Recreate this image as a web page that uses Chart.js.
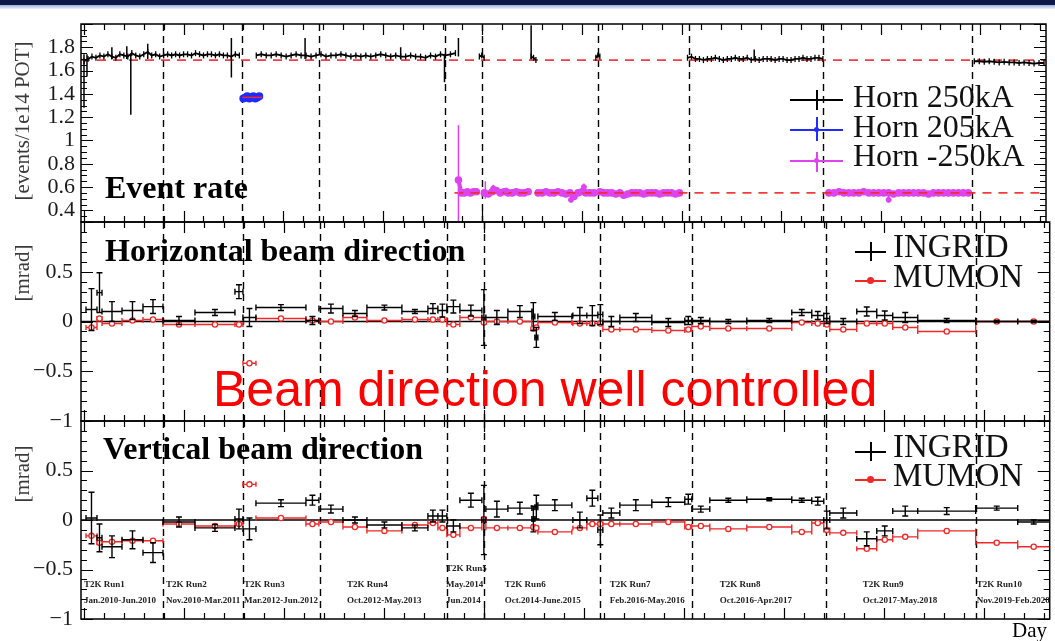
<!DOCTYPE html>
<html>
<head>
<meta charset="utf-8">
<title>Beam stability</title>
<script src="https://cdn.jsdelivr.net/npm/chart.js@4.4.1/dist/chart.umd.min.js"></script>
<style>
  body { margin: 0; background: #fff; }
  #page { position: relative; width: 1055px; height: 641px; overflow: hidden; background: #fff; font-family: 'Liberation Serif', 'Times New Roman', serif; }
  #page canvas { position: absolute; left: 0; top: 0; }
  .bar { position: absolute; left: 0; top: 0; width: 1055px; height: 5px; background: #0f1947; }
  .bar2 { position: absolute; left: 0; top: 5px; width: 1055px; height: 4px; background: linear-gradient(#9fb0d8, #eef2fa); }
  .t { position: absolute; white-space: nowrap; line-height: 1; color: #000; }
  .title { font-weight: bold; font-size: 32px; }
  .leg { font-size: 32px; color: #111; }
  .leg2 { font-size: 33px; color: #111; }
  .ytitle { font-size: 21px; color: #3a3a3a; transform: translate(-50%, -50%) rotate(-90deg); }
  .big { font-family: 'Liberation Sans', Arial, sans-serif; font-size: 50px; color: #ff0000; }
  .hl { position: absolute; height: 1.5px; }
  .vl { position: absolute; width: 1.5px; }
  .dot { position: absolute; border-radius: 50%; }
</style>
</head>
<body>
<div id="page">
  <div class="bar"></div><div class="bar2"></div>
  <canvas id="rate" width="1055" height="641"></canvas>
  <canvas id="horiz" width="1055" height="641"></canvas>
  <canvas id="vert" width="1055" height="641"></canvas>

  <div class="t ytitle" style="left:22px; top:121px;">[events/1e14 POT]</div>
  <div class="t ytitle" style="left:22px; top:273px;">[mrad]</div>
  <div class="t ytitle" style="left:22px; top:474px;">[mrad]</div>

  <div class="t title" style="left:105px; top:171px;">Event rate</div>
  <div class="t title" style="left:105px; top:234px;">Horizontal beam direction</div>
  <div class="t title" style="left:103px; top:432px;">Vertical beam direction</div>

  <div class="hl" style="left:790px; top:99px; width:53px; background:#000;"></div>
  <div class="vl" style="left:816px; top:90px; height:20px; background:#000;"></div>
  <div class="t leg" style="left:853px; top:80px;">Horn 250kA</div>
  <div class="hl" style="left:790px; top:129px; width:53px; background:#1f2cff;"></div>
  <div class="vl" style="left:816px; top:117px; height:24px; background:#1f2cff;"></div>
  <div class="dot" style="left:814px; top:127px; width:5px; height:5px; background:#1f2cff;"></div>
  <div class="t leg" style="left:853px; top:110px;">Horn 205kA</div>
  <div class="hl" style="left:790px; top:160px; width:53px; background:#dd44f0;"></div>
  <div class="vl" style="left:816px; top:152px; height:20px; background:#dd44f0;"></div>
  <div class="dot" style="left:814px; top:158px; width:5px; height:5px; background:#dd44f0;"></div>
  <div class="t leg" style="left:853px; top:139px;">Horn -250kA</div>

  <div class="hl" style="left:855px; top:251px; width:31px; background:#000;"></div>
  <div class="vl" style="left:870px; top:242px; height:19px; background:#000;"></div>
  <div class="t leg2" style="left:893px; top:230px;">INGRID</div>
  <div class="hl" style="left:855px; top:280px; width:31px; background:#f02828;"></div>
  <div class="dot" style="left:867px; top:277px; width:7px; height:7px; background:#f02828;"></div>
  <div class="t leg2" style="left:893px; top:260px;">MUMON</div>

  <div class="hl" style="left:855px; top:451px; width:31px; background:#000;"></div>
  <div class="vl" style="left:870px; top:442px; height:19px; background:#000;"></div>
  <div class="t leg2" style="left:893px; top:430px;">INGRID</div>
  <div class="hl" style="left:855px; top:479px; width:31px; background:#f02828;"></div>
  <div class="dot" style="left:867px; top:476px; width:7px; height:7px; background:#f02828;"></div>
  <div class="t leg2" style="left:893px; top:459px;">MUMON</div>

  <div class="t big" style="left:213px; top:364px;">Beam direction well controlled</div>
  <div class="t" style="left:1012px; top:620px; font-size:21px;">Day</div>
</div>

<script>
const DAY_MIN = -15;
const DAY_MAX = 4830;
const runBoundaries = [395, 795, 1180, 1815, 2000, 2580, 3040, 3710, 4460];

// Event rate, Horn 250kA: chunks of data, each with a start day and a spacing
const horn250Starts = [0, 865, 1985, 2245, 2570, 3030, 4470];
const horn250Steps = [20, 25, 12, 12, 10, 20, 25];
const horn250Run1to2 = [1.68, 1.70, 1.72, 1.71, 1.73, 1.72, 1.74, 1.72, 1.71, 1.74, 1.73, 1.72, 1.75, 1.73, 1.72, 1.74, 1.76, 1.73, 1.74, 1.72,
  1.73, 1.74, 1.73, 1.74, 1.73, 1.74, 1.74, 1.73, 1.75, 1.74, 1.73, 1.74, 1.74, 1.73, 1.74, 1.73, 1.73, 1.72, 1.74, 1.73];
const horn250Run3to5 = [1.73, 1.74, 1.73, 1.73, 1.74, 1.73, 1.72, 1.73, 1.74, 1.73, 1.73, 1.72, 1.73, 1.74, 1.72, 1.73, 1.73, 1.74, 1.73, 1.72,
  1.73, 1.72, 1.73, 1.72, 1.73, 1.74, 1.73, 1.72, 1.73, 1.72, 1.72, 1.73, 1.72, 1.72, 1.71, 1.73, 1.72, 1.74, 1.73, 1.74, 1.75];
const horn250Run5b = [1.72, 1.73, 1.71];
const horn250Run6 = [1.72, 1.71, 1.69];
const horn250Run7 = [1.71, 1.73, 1.72];
const horn250Run8 = [1.71, 1.72, 1.70, 1.70, 1.69, 1.70, 1.70, 1.71, 1.70, 1.69, 1.70, 1.70, 1.71, 1.70, 1.70, 1.71, 1.69, 1.70,
  1.69, 1.70, 1.70, 1.70, 1.69, 1.70, 1.70, 1.69, 1.69, 1.70, 1.70, 1.71, 1.70, 1.70, 1.71, 1.71, 1.70];
const horn250Run10 = [1.68, 1.68, 1.675, 1.68, 1.675, 1.67, 1.675, 1.67, 1.67, 1.665, 1.67, 1.665, 1.66, 1.665, 1.665];
const horn250SpikeDay = [0, 15, 140, 215, 235, 320, 740, 1110, 1590, 1810, 1880, 2245, 3365];
const horn250SpikeLow = [1.28, 1.55, 1.70, 1.70, 1.22, 1.70, 1.54, 1.70, 1.70, 1.50, 1.72, 1.70, 1.70];
const horn250SpikeHigh = [1.74, 1.74, 1.80, 1.81, 1.74, 1.83, 1.88, 1.88, 1.80, 1.74, 1.88, 1.99, 1.78];

// Horn 205kA
const horn205Start = 800;
const horn205Step = 10;
const horn205Rate = [1.36, 1.37, 1.38, 1.36, 1.37, 1.38, 1.36, 1.37, 1.38];

// Horn -250kA
const hornNegStarts = [1880, 2010, 2280, 2590, 3740];
const hornNegSteps = [15, 20, 20, 20, 25];
const hornNegRun5 = [0.66, 0.55, 0.55, 0.56, 0.55, 0.56, 0.56];
const hornNegRun6a = [0.55, 0.54, 0.56, 0.57, 0.55, 0.56, 0.55, 0.55, 0.56, 0.55, 0.55, 0.56];
const hornNegRun6b = [0.55, 0.55, 0.56, 0.55, 0.55, 0.56, 0.55, 0.54, 0.55, 0.52, 0.55, 0.56, 0.55, 0.55, 0.55];
const hornNegRun7 = [0.56, 0.55, 0.55, 0.55, 0.54, 0.55, 0.53, 0.54, 0.55, 0.55, 0.55, 0.54, 0.55, 0.55, 0.55, 0.54, 0.55, 0.55, 0.55, 0.54, 0.55];
const hornNegRun9 = [0.55, 0.55, 0.56, 0.55, 0.55, 0.55, 0.55, 0.56, 0.55, 0.55, 0.55, 0.55, 0.55, 0.54, 0.55, 0.55, 0.55, 0.55, 0.55,
  0.55, 0.54, 0.55, 0.55, 0.55, 0.55, 0.55, 0.55, 0.55, 0.55];
const hornNegSpikeDay = [1880, 2015, 2055, 2120, 2445, 2510, 4040];
const hornNegSpikeVal = [0.66, 0.55, 0.59, 0.57, 0.49, 0.60, 0.49];
const hornNegSpikeLow = [0.30, 0.50, 0.56, 0.55, 0.47, 0.55, 0.47];
const hornNegSpikeHigh = [1.13, 0.65, 0.62, 0.59, 0.55, 0.63, 0.55];

const nominalRate = [1.69, 0.55, 1.37];

// Beam direction bins (day ranges)
const binLo = [10, 65, 90, 190, 295, 395, 555, 755, 795, 860, 1110, 1175, 1295, 1415, 1590, 1720, 1770, 1815, 1880, 1990,
  2010, 2120, 2240, 2255, 2270, 2445, 2515, 2570, 2595, 2680, 2840, 3005, 3040, 3130, 3315, 3540, 3640, 3700, 3730, 3865,
  3965, 4045, 4170, 4460, 4670];
const binHi = [65, 90, 190, 295, 395, 555, 755, 795, 860, 1110, 1175, 1295, 1415, 1590, 1720, 1770, 1815, 1880, 1990, 2010,
  2120, 2240, 2255, 2270, 2440, 2515, 2570, 2595, 2680, 2840, 3005, 3040, 3130, 3315, 3540, 3640, 3700, 3730, 3865, 3965,
  4045, 4170, 4460, 4670, 4830];
const ingridH = [0.12, 0.29, 0.10, 0.11, 0.15, 0.01, 0.09, 0.30, 0.04, 0.14, 0.01, 0.13, 0.08, 0.14, 0.10, 0.13, 0.11, 0.15, 0.11, 0.04,
  0.04, 0.10, 0.05, -0.16, 0.05, 0.06, 0.06, 0.07, 0.00, 0.04, -0.01, 0.01, 0.01, 0.00, 0.01, 0.09, 0.06, 0.03, 0.00, 0.10,
  0.06, 0.04, 0.01, 0.00, 0.00];
const ingridHErr = [0.21, 0.20, 0.10, 0.09, 0.07, 0.04, 0.03, 0.07, 0.09, 0.03, 0.04, 0.045, 0.03, 0.025, 0.02, 0.05, 0.065, 0.065, 0.055, 0.28,
  0.07, 0.06, 0.14, 0.10, 0.04, 0.08, 0.10, 0.10, 0.05, 0.04, 0.04, 0.04, 0.03, 0.02, 0.02, 0.03, 0.04, 0.05, 0.03, 0.045,
  0.045, 0.05, 0.02, 0.01, 0.01];
const mumonH = [-0.06, 0.03, -0.02, 0.01, 0.02, -0.03, -0.03, -0.03, -0.42, 0.03, 0.01, 0.00, 0.04, 0.01, 0.02, 0.02, 0.02, -0.03, 0.04, -0.01,
  0.00, 0.00, -0.07, -0.06, -0.01, -0.02, -0.02, -0.02, -0.08, -0.08, -0.09, -0.08, -0.05, -0.07, -0.07, -0.01, -0.02, -0.03, -0.08, -0.02,
  -0.02, -0.06, -0.10, 0.00, 0.00];
const ingridV = [0.02, -0.18, -0.27, -0.20, -0.33, -0.02, -0.08, 0.01, -0.09, 0.17, 0.20, 0.11, 0.00, -0.05, -0.08, 0.04, 0.04, -0.06, 0.20, 0.00,
  0.11, 0.12, 0.01, 0.13, 0.15, 0.00, 0.22, -0.10, 0.07, 0.15, 0.18, 0.21, 0.11, 0.20, 0.21, 0.20, 0.19, 0.00, 0.07, -0.19,
  -0.11, 0.09, 0.09, 0.12, -0.02];
const ingridVErr = [0.26, 0.14, 0.11, 0.09, 0.10, 0.05, 0.035, 0.10, 0.11, 0.035, 0.05, 0.04, 0.03, 0.03, 0.03, 0.06, 0.06, 0.06, 0.07, 0.35,
  0.08, 0.06, 0.13, 0.12, 0.055, 0.08, 0.08, 0.15, 0.05, 0.055, 0.045, 0.05, 0.03, 0.02, 0.015, 0.02, 0.04, 0.09, 0.05, 0.07,
  0.05, 0.05, 0.035, 0.02, 0.02];
const mumonV = [-0.16, -0.23, -0.22, -0.21, -0.21, -0.04, -0.06, -0.04, 0.36, 0.02, -0.04, -0.02, -0.07, -0.11, -0.05, -0.03, -0.08, -0.15, -0.08, 0.01,
  -0.08, -0.08, -0.07, -0.08, -0.12, -0.08, -0.04, -0.04, -0.04, -0.04, -0.02, -0.07, -0.06, -0.09, -0.07, -0.12, -0.03, -0.10, -0.13, -0.29,
  -0.20, -0.17, -0.11, -0.23, -0.27];

const runLabelDays = [0, 410, 800, 1315, 1810, 2105, 2630, 3180, 3895, 4465];
const runLabelText = [
  ['T2K Run1', 'Jan.2010-Jun.2010'], ['T2K Run2', 'Nov.2010-Mar.2011'], ['T2K Run3', 'Mar.2012-Jun.2012'],
  ['T2K Run4', 'Oct.2012-May.2013'], ['T2K Run5', 'May.2014', 'Jun.2014'], ['T2K Run6', 'Oct.2014-June.2015'],
  ['T2K Run7', 'Feb.2016-May.2016'], ['T2K Run8', 'Oct.2016-Apr.2017'], ['T2K Run9', 'Oct.2017-May.2018'],
  ['T2K Run10', 'Nov.2019-Feb.2020']
];

const RED = '#f02828';
const MAGENTA = '#dd44f0';
const BLUE = '#1f2cff';

function chunk(start, step, values) {
    return values.map((v, i) => ({ x: start + i * step, y: v }));
}

// error bars / step connectors, drawn just before each dataset
const errorBars = {
    id: 'errorBars',
    beforeDatasetDraw(chart, args) {
        const ds = chart.data.datasets[args.index];
        if (!ds.errorBars) return;
        const { ctx, chartArea: a, scales: { x, y } } = chart;
        const cap = ds.capSize ?? 3;
        ctx.save();
        ctx.beginPath();
        ctx.rect(a.left, a.top, a.right - a.left, a.bottom - a.top);
        ctx.clip();
        ctx.strokeStyle = ds.errorColor;
        ctx.lineWidth = ds.errorWidth ?? 1.3;
        ctx.beginPath();
        ds.data.forEach((p, i) => {
            const px = x.getPixelForValue(p.x);
            const py = y.getPixelForValue(p.y);
            if (p.xl !== undefined) {
                const l = x.getPixelForValue(p.xl), r = x.getPixelForValue(p.xh);
                ctx.moveTo(l, py); ctx.lineTo(r, py);
                if (cap) {
                    ctx.moveTo(l, py - cap); ctx.lineTo(l, py + cap);
                    ctx.moveTo(r, py - cap); ctx.lineTo(r, py + cap);
                }
                // join neighbouring bins like a step histogram (not across big jumps)
                const n = ds.data[i + 1];
                if (ds.steps && n && n.xl === p.xh && Math.abs(n.y - p.y) < 0.15) {
                    ctx.moveTo(r, py); ctx.lineTo(r, y.getPixelForValue(n.y));
                }
            }
            if (p.yl !== undefined) {
                const t = y.getPixelForValue(p.yh), b = y.getPixelForValue(p.yl);
                ctx.moveTo(px, t); ctx.lineTo(px, b);
                if (cap) {
                    ctx.moveTo(px - cap, t); ctx.lineTo(px + cap, t);
                    ctx.moveTo(px - cap, b); ctx.lineTo(px + cap, b);
                }
            }
        });
        ctx.stroke();
        ctx.restore();
    }
};

// ROOT-like frame, inward ticks, run boundaries and run labels
const panelDecor = {
    id: 'panelDecor',
    beforeDatasetsDraw(chart) {
        const { ctx, chartArea: a, scales: { x } } = chart;
        ctx.save();
        ctx.strokeStyle = '#000';
        ctx.lineWidth = 1.4;
        ctx.setLineDash([7, 5]);
        runBoundaries.forEach(d => {
            const px = Math.round(x.getPixelForValue(d)) + 0.5;
            ctx.beginPath();
            ctx.moveTo(px, a.top);
            ctx.lineTo(px, a.bottom);
            ctx.stroke();
        });
        ctx.restore();
    },
    afterDraw(chart, args, opts) {
        const { ctx, chartArea: a, scales: { x, y } } = chart;
        ctx.save();
        ctx.strokeStyle = '#000';
        ctx.lineWidth = 1.5;
        ctx.strokeRect(a.left, a.top, a.right - a.left, a.bottom - a.top);
        ctx.lineWidth = 1.2;
        ctx.beginPath();
        for (let d = 0; d <= DAY_MAX; d += 100) {
            const px = Math.round(x.getPixelForValue(d)) + 0.5;
            const len = d % 500 === 0 ? 11 : 6;
            ctx.moveTo(px, a.top); ctx.lineTo(px, a.top + len);
            ctx.moveTo(px, a.bottom); ctx.lineTo(px, a.bottom - len);
        }
        const k0 = Math.ceil(y.min / opts.yMinor - 1e-6), k1 = Math.floor(y.max / opts.yMinor + 1e-6);
        for (let k = k0; k <= k1; k++) {
            const v = k * opts.yMinor;
            const r = v / opts.yMajor;
            const len = Math.abs(r - Math.round(r)) < 1e-6 ? 12 : 6;
            const py = Math.round(y.getPixelForValue(v)) + 0.5;
            ctx.moveTo(a.left, py); ctx.lineTo(a.left + len, py);
            ctx.moveTo(a.right, py); ctx.lineTo(a.right - len, py);
        }
        ctx.stroke();

        if (opts.runLabels) {
            ctx.beginPath();
            ctx.rect(a.left, a.top, a.right - a.left, a.bottom - a.top);
            ctx.clip();
            ctx.fillStyle = '#222';
            ctx.font = 'bold 9px "Liberation Serif"';
            ctx.textBaseline = 'alphabetic';
            runLabelText.forEach((lines, i) => {
                const px = x.getPixelForValue(runLabelDays[i]);
                lines.forEach((s, j) => {
                    const v = -0.84 + 0.16 * (lines.length - 1 - j);
                    ctx.fillText(s, px, y.getPixelForValue(v));
                });
            });
        }
        ctx.restore();
    }
};

function tickLabel(hideAbove) {
    return v => {
        if (v > hideAbove) return null;
        const s = String(Number(v.toFixed(2)));
        return s.replace('-', '\u2212');
    };
}

function makePanel(id, top, bottom, yMin, yMax, yMajor, yMinor, labelPad, hideAbove, datasets, runLabels) {
    return new Chart(document.getElementById(id), {
        type: 'line',
        data: { datasets },
        options: {
            responsive: false,
            animation: false,
            devicePixelRatio: 1,
            layout: { padding: { top: top, bottom: 641 - bottom, left: 0, right: 5 } },
            plugins: {
                legend: { display: false },
                tooltip: { enabled: false },
                panelDecor: { yMajor, yMinor, runLabels }
            },
            scales: {
                x: { type: 'linear', min: DAY_MIN, max: DAY_MAX, display: false },
                y: {
                    min: yMin,
                    max: yMax,
                    afterFit: s => { s.width = 81; },
                    grid: { display: false, drawTicks: false },
                    border: { display: false },
                    ticks: {
                        stepSize: yMajor,
                        includeBounds: false,
                        autoSkip: false,
                        padding: labelPad,
                        color: '#1a1a1a',
                        font: { family: 'Liberation Serif', size: 22 },
                        callback: tickLabel(hideAbove)
                    }
                }
            }
        },
        plugins: [errorBars, panelDecor]
    });
}

// ---- Event rate panel ----
const horn250Chunks = [horn250Run1to2, horn250Run3to5, horn250Run5b, horn250Run6, horn250Run7, horn250Run8, horn250Run10];
const hornNegChunks = [hornNegRun5, hornNegRun6a, hornNegRun6b, hornNegRun7, hornNegRun9];

const rateSets = [];
rateSets.push({
    data: horn250SpikeDay.map((d, i) => ({ x: d, y: (horn250SpikeLow[i] + horn250SpikeHigh[i]) / 2, yl: horn250SpikeLow[i], yh: horn250SpikeHigh[i] })),
    showLine: false, pointRadius: 0, errorBars: true, errorColor: '#000', errorWidth: 1.5, capSize: 0
});
horn250Chunks.forEach((vals, k) => rateSets.push({
    data: chunk(horn250Starts[k], horn250Steps[k], vals),
    borderColor: '#000', borderWidth: 1.8, tension: 0,
    pointStyle: 'line', rotation: 90, pointRadius: 3, pointBorderWidth: 1.3, pointBorderColor: '#000'
}));
rateSets.push({
    data: hornNegSpikeDay.map((d, i) => ({ x: d, y: hornNegSpikeVal[i], yl: hornNegSpikeLow[i], yh: hornNegSpikeHigh[i] })),
    showLine: false, pointRadius: 2.5, pointBackgroundColor: MAGENTA, pointBorderColor: MAGENTA,
    errorBars: true, errorColor: MAGENTA, errorWidth: 1.5, capSize: 0
});
rateSets.push({
    data: [{ x: 795, y: nominalRate[2] }, { x: 895, y: nominalRate[2] }],
    borderColor: RED, borderWidth: 1.5, pointRadius: 0
});
rateSets.push({
    data: [{ x: DAY_MIN, y: nominalRate[0] }, { x: DAY_MAX, y: nominalRate[0] }],
    borderColor: 'rgba(240,40,40,0.9)', borderWidth: 1.6, borderDash: [9, 7], pointRadius: 0
});
rateSets.push({
    data: [{ x: 1860, y: nominalRate[1] }, { x: DAY_MAX, y: nominalRate[1] }],
    borderColor: 'rgba(240,40,40,0.9)', borderWidth: 1.6, borderDash: [9, 7], pointRadius: 0
});
rateSets.push({
    data: chunk(horn205Start, horn205Step, horn205Rate),
    borderColor: BLUE, borderWidth: 5, pointRadius: 1.5, pointBackgroundColor: BLUE, pointBorderColor: BLUE
});
hornNegChunks.forEach((vals, k) => rateSets.push({
    data: chunk(hornNegStarts[k], hornNegSteps[k], vals),
    borderColor: MAGENTA, borderWidth: 4, pointRadius: 1.8, pointBackgroundColor: MAGENTA, pointBorderColor: MAGENTA
}));

makePanel('rate', 24, 222, 0.3, 2.0, 0.2, 0.05, 6, 1.85, rateSets, false);

// ---- Beam direction panels ----
function directionSets(ingrid, ingridErr, mumon) {
    return [
        {
            data: binLo.map((lo, i) => ({ x: (lo + binHi[i]) / 2, y: ingrid[i], xl: lo, xh: binHi[i], yl: ingrid[i] - ingridErr[i], yh: ingrid[i] + ingridErr[i] })),
            showLine: false, pointRadius: 0, errorBars: true, errorColor: '#000', errorWidth: 1.4, capSize: 3
        },
        {
            data: binLo.map((lo, i) => ({ x: (lo + binHi[i]) / 2, y: mumon[i], xl: lo, xh: binHi[i] })),
            showLine: false, pointRadius: 2.6, pointBackgroundColor: '#fff', pointBorderColor: RED, pointBorderWidth: 1.3,
            errorBars: true, errorColor: RED, errorWidth: 1.4, capSize: 2.5, steps: true
        },
        {
            data: [{ x: DAY_MIN, y: 0 }, { x: DAY_MAX, y: 0 }],
            borderColor: '#000', borderWidth: 1.6, pointRadius: 0
        }
    ];
}

makePanel('horiz', 222, 421, -1, 1, 0.5, 0.1, 8, 0.9, directionSets(ingridH, ingridHErr, mumonH), false);
makePanel('vert', 421, 619, -1, 1, 0.5, 0.1, 8, 0.9, directionSets(ingridV, ingridVErr, mumonV), true);
</script>
</body>
</html>
